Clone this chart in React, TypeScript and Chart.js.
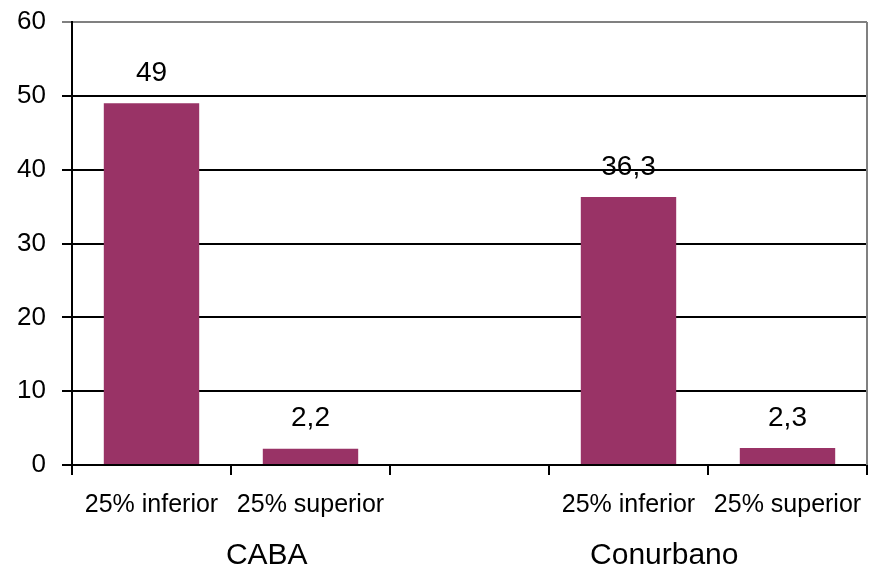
import React, { useEffect, useRef } from "react";
import { Chart, registerables } from "chart.js";

Chart.register(...registerables);

const categories = ["25% inferior", "25% superior", "", "25% inferior", "25% superior"];
const values: (number | null)[] = [49, 2.2, null, 36.3, 2.3];
const groups = ["CABA", "Conurbano"];
const yTicks = [0, 10, 20, 30, 40, 50, 60];

const FONT = "'Liberation Sans', Arial, sans-serif";

const fmt = (v: number) => String(v).replace(".", ",");

const decorPlugin = {
  id: "decor",
  afterDatasetsDraw(chart: any) {
    const ctx = chart.ctx;
    const meta = chart.getDatasetMeta(0);
    ctx.save();
    ctx.fillStyle = "#000";
    ctx.font = `28px ${FONT}`;
    ctx.textAlign = "center";
    ctx.textBaseline = "middle";
    meta.data.forEach((bar: any, i: number) => {
      const v = values[i];
      if (v == null) return;
      ctx.fillText(fmt(v), bar.x, bar.y - 30);
    });
    ctx.restore();
  },
  afterDraw(chart: any) {
    const ctx = chart.ctx;
    const area = chart.chartArea;
    const x = chart.scales.x;
    ctx.save();
    ctx.strokeStyle = "#808080";
    ctx.lineWidth = 2;
    ctx.beginPath();
    ctx.moveTo(area.right, area.top);
    ctx.lineTo(area.right, area.bottom);
    ctx.stroke();
    const mid = x.getPixelForValue(2);
    const centers = [(x.left + mid) / 2 - 4, (mid + x.right) / 2 - 4];
    ctx.fillStyle = "#000";
    ctx.font = `30px ${FONT}`;
    ctx.textAlign = "center";
    ctx.textBaseline = "middle";
    groups.forEach((g, i) => ctx.fillText(g, centers[i], 556));
    ctx.restore();
  },
};

export default function App() {
  const ref = useRef<HTMLCanvasElement>(null);
  useEffect(() => {
    if (!ref.current) return;
    const chart = new Chart(ref.current, {
      type: "bar",
      data: {
        labels: categories,
        datasets: [
          {
            data: values,
            backgroundColor: "#993366",
            barPercentage: 0.6,
            categoryPercentage: 1.0,
          },
        ],
      },
      options: {
        responsive: false,
        animation: false,
        layout: { padding: { top: 22, right: 2, bottom: 0, left: 0 } },
        plugins: { legend: { display: false }, tooltip: { enabled: false } },
        scales: {
          x: {
            offset: true,
            grid: {
              display: true,
              drawOnChartArea: false,
              drawTicks: true,
              tickLength: 10,
              color: "#000",
              lineWidth: 2,
              offset: true,
            },
            border: { display: true, color: "#000", width: 2 },
            ticks: {
              color: "#000",
              font: { family: FONT, size: 25 },
              padding: 15,
              maxRotation: 0,
              autoSkip: false,
            },
            afterFit(scale: any) {
              scale.height = 102;
              scale.paddingLeft = 0;
              scale.paddingRight = 0;
            },
          },
          y: {
            min: 0,
            max: 60,
            afterBuildTicks(scale: any) {
              scale.ticks = yTicks.map((v) => ({ value: v }));
            },
            grid: {
              color: (c: any) => (c.tick && c.tick.value === 60 ? "#808080" : "#000"),
              lineWidth: 2,
              tickLength: 10,
              drawTicks: true,
            },
            border: { display: true, color: "#000", width: 2 },
            ticks: {
              color: "#000",
              font: { family: FONT, size: 26 },
              padding: 16,
            },
            afterFit(scale: any) {
              scale.width = 72;
              scale.paddingTop = 0;
              scale.paddingBottom = 0;
            },
          },
        },
      },
      plugins: [decorPlugin],
    });
    return () => chart.destroy();
  }, []);
  return (
    <div style={{ position: "absolute", left: 0, top: 0, width: 869, height: 567, background: "#fff" }}>
      <canvas ref={ref} width={869} height={567} style={{ display: "block" }} />
    </div>
  );
}
